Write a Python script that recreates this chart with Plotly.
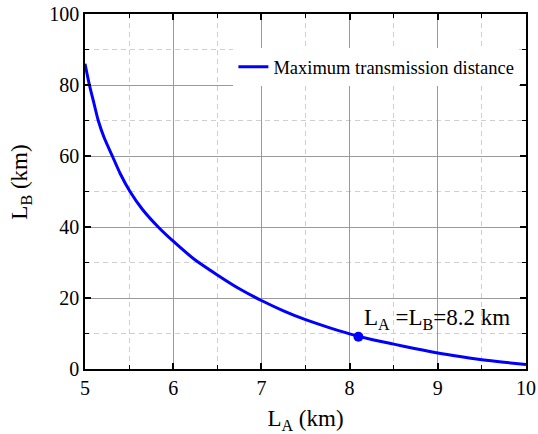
import plotly.graph_objects as go

# Data
LA = [5.0, 5.05, 5.1, 5.15, 5.22, 5.31, 5.4, 5.51, 5.65, 5.83, 6.0, 6.25, 6.5, 6.75,
      7.0, 7.25, 7.5, 7.75, 8.0, 8.25, 8.5, 8.75, 9.0, 9.25, 9.5, 9.75, 10.0]
LB = [86, 80, 75, 70, 65, 60, 55, 50, 45, 40, 36, 30.7, 26.5, 22.6,
      19.3, 16.4, 13.9, 11.8, 9.9, 8.3, 7.0, 5.7, 4.5, 3.5, 2.6, 1.9, 1.3]
point_x = [8.1]
point_y = [9.1]
series_name = "Maximum transmission distance"
annotation_text = "L<sub>A</sub> =L<sub>B</sub>=8.2 km"
x_title = "L<sub>A</sub> (km)"
y_title = "L<sub>B</sub> (km)"
x_ticks = [5, 6, 7, 8, 9, 10]
y_ticks = [0, 20, 40, 60, 80, 100]

FONT = "Liberation Serif"

fig = go.Figure()
fig.add_trace(go.Scatter(
    x=LA, y=LB, mode="lines", name=series_name,
    line=dict(color="#0000FF", width=3, shape="spline", smoothing=0.6),
))
fig.add_trace(go.Scatter(
    x=point_x, y=point_y, mode="markers", showlegend=False,
    marker=dict(color="#0000FF", size=10),
))
fig.add_annotation(
    x=point_x[0], y=point_y[0], text=annotation_text, showarrow=False,
    xanchor="left", yanchor="bottom", xshift=4, yshift=2,
    font=dict(family=FONT, size=23, color="black"),
)
# y-axis title (rotated), placed slightly above the plot's vertical centre as in the reference
fig.add_annotation(
    xref="paper", yref="paper", x=-0.145, y=0.525, text=y_title, textangle=-90,
    showarrow=False, xanchor="center", yanchor="middle",
    font=dict(family=FONT, size=23, color="black"),
)

axis_common = dict(
    showline=True, linecolor="black", linewidth=1.5, mirror="ticks",
    ticks="inside", ticklen=6, tickcolor="black", tickwidth=1.5,
    showgrid=True, gridcolor="#9a9a9a", gridwidth=1,
    zeroline=False, automargin=False, ticklabeloverflow="allow",
    tickfont=dict(family=FONT, size=20, color="black"),
)

fig.update_xaxes(
    range=[5, 10], tickvals=x_ticks,
    title=dict(text=x_title, font=dict(family=FONT, size=23, color="black"), standoff=12),
    minor=dict(dtick=0.5, tick0=5, showgrid=True, gridcolor="#cfcfcf", griddash="5px,4px",
               ticks="inside", ticklen=4, tickcolor="black", tickwidth=1),
    **axis_common,
)
fig.update_yaxes(
    range=[0, 100], tickvals=y_ticks,
    minor=dict(dtick=10, tick0=0, showgrid=True, gridcolor="#cfcfcf", griddash="5px,4px",
               ticks="inside", ticklen=4, tickcolor="black", tickwidth=1),
    **axis_common,
)

fig.update_layout(
    width=538, height=434,
    margin=dict(l=85, r=12, t=14, b=65),
    paper_bgcolor="white", plot_bgcolor="white",
    font=dict(family=FONT, color="black"),
    legend=dict(x=0.985, y=0.85, xanchor="right", yanchor="middle",
                bgcolor="white", borderwidth=0,
                font=dict(family=FONT, size=18.5, color="black")),
)

fig.write_html("out.html")
